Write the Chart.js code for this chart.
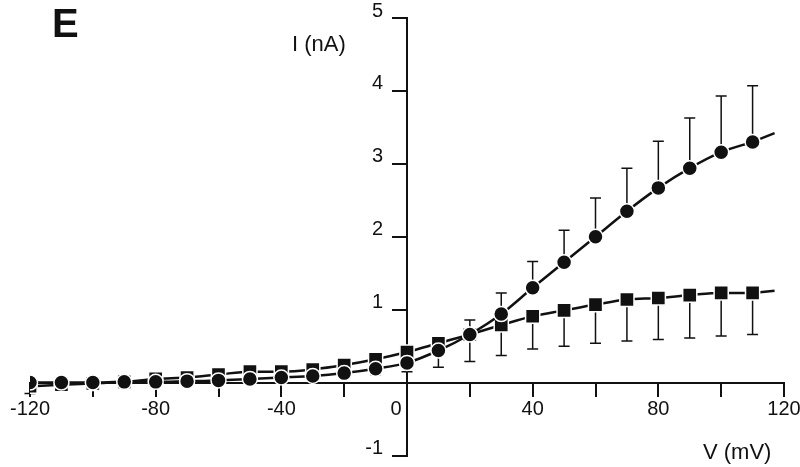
<!DOCTYPE html>
<html>
<head>
<meta charset="utf-8">
<script src="https://cdn.jsdelivr.net/npm/chart.js@4/dist/chart.umd.min.js"></script>
<style>
  html, body { margin: 0; padding: 0; background: #fff; }
  #wrap { width: 800px; height: 467px; }
</style>
</head>
<body>
<div id="wrap"><canvas id="iv" width="800" height="467"></canvas></div>
<script>
// membrane potential (mV)
const voltages = [-120, -110, -100, -90, -80, -70, -60, -50, -40, -30, -20, -10,
                  0, 10, 20, 30, 40, 50, 60, 70, 80, 90, 100, 110];

// circles
const circleI = [0.00, 0.00, 0.00, 0.01, 0.01, 0.02, 0.03, 0.05, 0.07, 0.09, 0.13, 0.19,
                 0.27, 0.44, 0.66, 0.94, 1.30, 1.65, 2.00, 2.35, 2.67, 2.94, 3.16, 3.30];
const circleErrUp = [0, 0, 0, 0, 0, 0, 0, 0, 0, 0, 0, 0,
                     0, 0, 0.20, 0.29, 0.36, 0.44, 0.53, 0.59, 0.64, 0.69, 0.77, 0.77];
const circleErrDown = [0, 0, 0, 0, 0, 0, 0, 0, 0, 0, 0, 0.08,
                       0.12, 0, 0, 0, 0, 0, 0, 0, 0, 0, 0, 0];

// squares
const squareI = [-0.05, -0.03, -0.01, 0.01, 0.05, 0.07, 0.11, 0.15, 0.15, 0.18, 0.24, 0.32,
                 0.42, 0.54, 0.66, 0.79, 0.91, 0.99, 1.07, 1.14, 1.16, 1.20, 1.23, 1.23];
const squareErrUp = [0, 0, 0, 0, 0, 0, 0, 0, 0, 0, 0, 0,
                     0, 0, 0, 0, 0, 0, 0, 0, 0, 0, 0, 0];
const squareErrDown = [0.1, 0, 0, 0, 0, 0, 0, 0, 0, 0, 0, 0,
                       0, 0.33, 0.37, 0.42, 0.45, 0.49, 0.53, 0.57, 0.57, 0.59, 0.59, 0.57];

// fitted curves run a little past the last point
const fitTailV = [110, 117];
const circleTailI = [3.30, 3.42];
const squareTailI = [1.23, 1.26];

const xTicks = [-120, -80, -40, 0, 40, 80, 120];
const yTicks = [-1, 1, 2, 3, 4, 5];

const pts = (xs, ys) => xs.map((x, i) => ({ x: x, y: ys[i] }));
const FONT = '"Liberation Sans", Arial, sans-serif';

// error bars, drawn under the markers
const errorBars = {
  id: 'errorBars',
  beforeDatasetsDraw(chart) {
    const { ctx, scales: { x, y } } = chart;
    const sets = [
      [circleI, circleErrUp, circleErrDown],
      [squareI, squareErrUp, squareErrDown]
    ];
    ctx.save();
    ctx.strokeStyle = '#111';
    ctx.lineWidth = 1.5;
    sets.forEach(([vals, up, down]) => {
      vals.forEach((v, i) => {
        const px = x.getPixelForValue(voltages[i]);
        [[up[i], 1], [down[i], -1]].forEach(([e, dir]) => {
          if (!e) return;
          const py0 = y.getPixelForValue(v);
          const py1 = y.getPixelForValue(v + dir * e);
          ctx.beginPath();
          ctx.moveTo(px, py0);
          ctx.lineTo(px, py1);
          ctx.moveTo(px - 5.5, py1);
          ctx.lineTo(px + 5.5, py1);
          ctx.stroke();
        });
      });
    });
    ctx.restore();
  }
};

// tick labels sit beside the crossing axes, plus titles and panel letter
const labels = {
  id: 'labels',
  afterDraw(chart) {
    const { ctx, scales: { x, y } } = chart;
    const x0 = x.getPixelForValue(0);
    const y0 = y.getPixelForValue(0);
    ctx.save();
    ctx.fillStyle = '#111';
    ctx.textBaseline = 'middle';

    ctx.font = '20px ' + FONT;
    ctx.textAlign = 'center';
    xTicks.forEach(v => {
      const px = x.getPixelForValue(v) + (v === 0 ? -11 : 0);
      ctx.fillText(String(v), px, y0 + 27);
    });
    ctx.textAlign = 'right';
    yTicks.forEach(v => {
      ctx.fillText(String(v), x0 - 24, y.getPixelForValue(v) - 7);
    });

    ctx.textAlign = 'left';
    ctx.font = 'bold 40px ' + FONT;
    ctx.fillText('E', 52, 26);
    ctx.font = '22px ' + FONT;
    ctx.fillText('I (nA)', 292, 45);
    ctx.fillText('V (mV)', 703, 453);
    ctx.restore();
  }
};

new Chart(document.getElementById('iv'), {
  type: 'scatter',
  data: {
    datasets: [
      {
        data: pts(voltages, circleI),
        showLine: true,
        borderColor: '#111',
        borderWidth: 2.5,
        cubicInterpolationMode: 'monotone',
        pointStyle: 'circle',
        pointRadius: 7.5,
        pointBackgroundColor: '#111',
        pointBorderColor: '#fff',
        pointBorderWidth: 1.5
      },
      {
        data: pts(voltages, squareI),
        showLine: true,
        borderColor: '#111',
        borderWidth: 2.5,
        cubicInterpolationMode: 'monotone',
        pointStyle: 'rect',
        pointRadius: 10,
        pointBackgroundColor: '#111',
        pointBorderColor: '#fff',
        pointBorderWidth: 1.5
      },
      {
        data: pts(fitTailV, circleTailI),
        showLine: true,
        borderColor: '#111',
        borderWidth: 2.5,
        pointRadius: 0
      },
      {
        data: pts(fitTailV, squareTailI),
        showLine: true,
        borderColor: '#111',
        borderWidth: 2.5,
        pointRadius: 0
      }
    ]
  },
  options: {
    responsive: false,
    animation: false,
    layout: { padding: { left: 30, right: 16, top: 18, bottom: 1 } },
    plugins: {
      legend: { display: false },
      tooltip: { enabled: false }
    },
    scales: {
      x: {
        type: 'linear',
        min: -120,
        max: 120,
        position: { y: 0 },
        afterFit: s => { s.paddingLeft = 0; s.paddingRight = 0; },
        border: { color: '#111', width: 2 },
        grid: { drawOnChartArea: false, color: '#111', lineWidth: 2, tickLength: 13 },
        ticks: { stepSize: 20, autoSkip: false, display: false }
      },
      y: {
        min: -1,
        max: 5,
        position: { x: 0 },
        afterFit: s => { s.paddingTop = 0; s.paddingBottom = 0; },
        border: { color: '#111', width: 2 },
        grid: { drawOnChartArea: false, color: '#111', lineWidth: 2, tickLength: 14 },
        ticks: { stepSize: 1, display: false }
      }
    }
  },
  plugins: [errorBars, labels]
});
</script>
</body>
</html>
